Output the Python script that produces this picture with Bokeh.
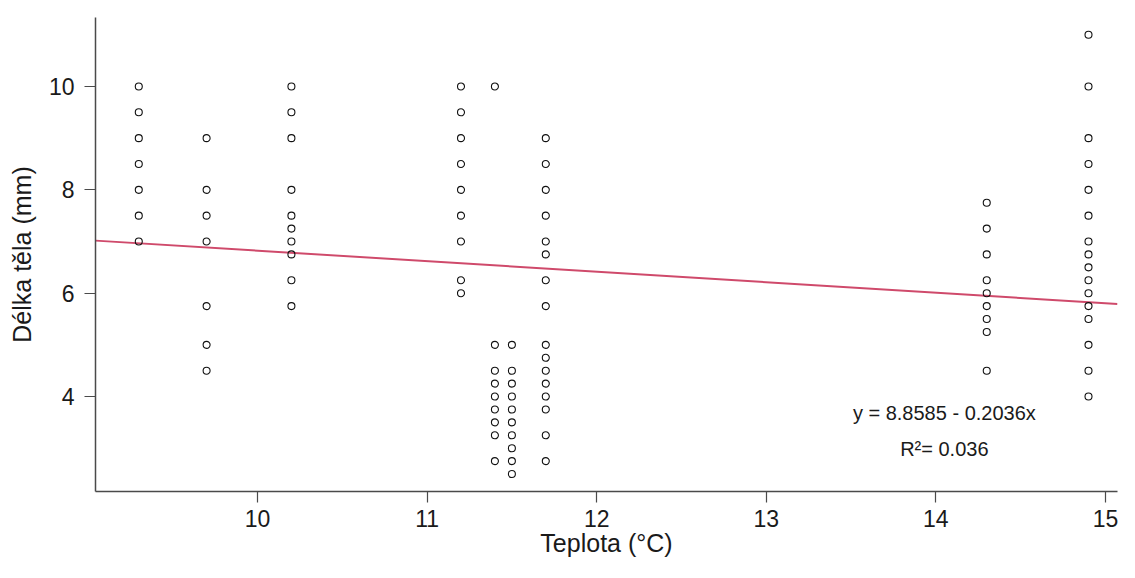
from bokeh.plotting import figure
from bokeh.models import Range1d, FixedTicker
from bokeh.core.properties import value
from bokeh.embed import file_html
from bokeh.resources import INLINE

# Data: temperature (°C) and body length (mm)
temp_9_3 = [10, 9.5, 9, 8.5, 8, 7.5, 7]
temp_9_7 = [9, 8, 7.5, 7, 5.75, 5, 4.5]
temp_10_2 = [10, 9.5, 9, 8, 7.5, 7.25, 7, 6.75, 6.25, 5.75]
temp_11_2 = [10, 9.5, 9, 8.5, 8, 7.5, 7, 6.25, 6.0]
temp_11_4 = [10, 5, 4.5, 4.25, 4.0, 3.75, 3.5, 3.25, 2.75]
temp_11_5 = [5, 4.5, 4.25, 4.0, 3.75, 3.5, 3.25, 3.0, 2.75, 2.5]
temp_11_7 = [9, 8.5, 8, 7.5, 7, 6.75, 6.25, 5.75, 5, 4.75, 4.5, 4.25, 4.0, 3.75, 3.25, 2.75]
temp_14_3 = [7.75, 7.25, 6.75, 6.25, 6.0, 5.75, 5.5, 5.25, 4.5]
temp_14_9 = [11, 10, 9, 8.5, 8, 7.5, 7, 6.75, 6.5, 6.25, 6.0, 5.75, 5.5, 5.0, 4.5, 4.0]

temperatures = [9.3, 9.7, 10.2, 11.2, 11.4, 11.5, 11.7, 14.3, 14.9]
lengths = [temp_9_3, temp_9_7, temp_10_2, temp_11_2, temp_11_4, temp_11_5,
           temp_11_7, temp_14_3, temp_14_9]

intercept = 8.8585
slope = -0.2036
r2 = 0.036

x_ticks = [10, 11, 12, 13, 14, 15]
y_ticks = [4, 6, 8, 10]

xs, ys = [], []
for t, col in zip(temperatures, lengths):
    xs += [t] * len(col)
    ys += col

X0, X1 = 9.0448, 15.071
Y0, Y1 = 2.162, 11.335

FONT = "Liberation Sans"
TXT = "#1a1a1a"
AX = "#4a4a4a"

p = figure(width=1119, height=562, output_backend="svg", toolbar_location=None,
           x_range=Range1d(X0, X1), y_range=Range1d(Y0, Y1),
           min_border_left=95, min_border_right=2, min_border_top=17,
           min_border_bottom=71)
p.outline_line_color = None
p.xgrid.visible = False
p.ygrid.visible = False
p.background_fill_color = "white"
p.border_fill_color = "white"

# regression line
p.line([X0, X1], [intercept + slope * X0, intercept + slope * X1],
       line_color="#cf4a6b", line_width=2)

p.scatter(xs, ys, marker="circle", size=7, fill_color=None,
          line_color="#111111", line_width=1.1)

p.text(x=[14.05], y=[3.69], text=[f"y = {intercept:.4f} - {abs(slope):.4f}x"],
       text_align="center", text_baseline="middle", text_font=value(FONT),
       text_font_size="20px", text_color=TXT)
p.text(x=[14.05], y=[2.975], text=[f"R\u00b2= {r2:.3f}"],
       text_align="center", text_baseline="middle", text_font=value(FONT),
       text_font_size="20px", text_color=TXT)

for ax in (p.xaxis[0], p.yaxis[0]):
    ax.axis_line_color = AX
    ax.axis_line_width = 1.5
    ax.major_tick_line_color = AX
    ax.major_tick_line_width = 1.2
    ax.major_tick_out = 11
    ax.major_tick_in = 0
    ax.minor_tick_line_color = None
    ax.major_label_text_font = FONT
    ax.major_label_text_font_size = "23px"
    ax.major_label_text_color = TXT
    ax.axis_label_text_font = FONT
    ax.axis_label_text_font_size = "25px"
    ax.axis_label_text_font_style = "normal"
    ax.axis_label_text_color = TXT

p.xaxis[0].ticker = FixedTicker(ticks=x_ticks)
p.yaxis[0].ticker = FixedTicker(ticks=y_ticks)
p.xaxis[0].axis_label = "Teplota (°C)"
p.yaxis[0].axis_label = "Délka těla (mm)"
p.xaxis[0].major_label_standoff = 7
p.xaxis[0].axis_label_standoff = -1
p.yaxis[0].major_label_standoff = 10
p.yaxis[0].axis_label_standoff = 10
p.yaxis[0].major_label_orientation = "horizontal"

open("out.html", "w").write(file_html(p, INLINE))
